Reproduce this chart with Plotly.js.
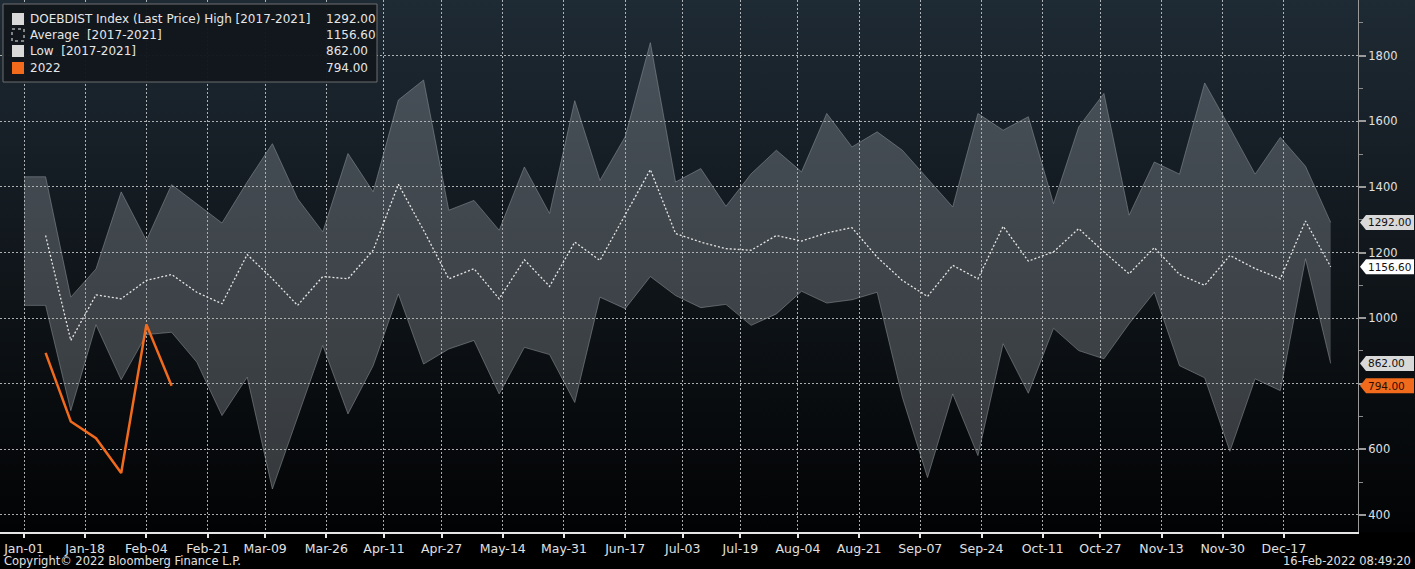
<!DOCTYPE html>
<html>
<head>
<meta charset="utf-8">
<script src="https://cdn.plot.ly/plotly-3.0.1.min.js"></script>
<style>
  html, body { margin: 0; padding: 0; }
  body {
    width: 1415px; height: 569px; overflow: hidden;
    background: linear-gradient(180deg, #1e2a34 0px, #10161b 266px, #020304 532px, #000 533px, #000 569px);
  }
  #chart { width: 1415px; height: 569px; }
</style>
</head>
<body>
<div id="chart"></div>
<script>
// ---------------- DATA ----------------
const bandDates = [
  '2022-01-01','2022-01-07','2022-01-14','2022-01-21','2022-01-28','2022-02-04','2022-02-11','2022-02-18','2022-02-25',
  '2022-03-04','2022-03-11','2022-03-18','2022-03-25','2022-04-01','2022-04-08','2022-04-15','2022-04-22','2022-04-29',
  '2022-05-06','2022-05-13','2022-05-20','2022-05-27','2022-06-03','2022-06-10','2022-06-17','2022-06-24','2022-07-01',
  '2022-07-08','2022-07-15','2022-07-22','2022-07-29','2022-08-05','2022-08-12','2022-08-19','2022-08-26','2022-09-02',
  '2022-09-09','2022-09-16','2022-09-23','2022-09-30','2022-10-07','2022-10-14','2022-10-21','2022-10-28','2022-11-04',
  '2022-11-11','2022-11-18','2022-11-25','2022-12-02','2022-12-09','2022-12-16','2022-12-23','2022-12-30'
];
const highValues = [
  1431, 1431, 1064, 1150, 1385, 1237, 1407, 1349, 1290,
  1415, 1532, 1364, 1263, 1502, 1385, 1665, 1726, 1329,
  1359, 1268, 1461, 1319, 1663, 1420, 1553, 1840, 1415,
  1456, 1341, 1440, 1512, 1446, 1624, 1522, 1568, 1512,
  1425, 1339, 1624, 1573, 1614, 1349, 1583, 1685, 1314,
  1476, 1439, 1717, 1580, 1439, 1551, 1463, 1292
];
const lowValues = [
  1039, 1039, 718, 980, 812, 950, 957, 866, 703,
  820, 479, 700, 917, 708, 855, 1074, 860, 906,
  932, 769, 911, 889, 743, 1064, 1029, 1127, 1069,
  1032, 1042, 978, 1013, 1082, 1046, 1056, 1079, 759,
  514, 769, 581, 922, 771, 969, 901, 876, 983,
  1079, 855, 818, 594, 815, 779, 1181, 862
];
const avgDates = bandDates.slice(1);
const avgValues = [
  1252, 932, 1071, 1059, 1115, 1133, 1079, 1044,
  1194, 1120, 1039, 1127, 1120, 1207, 1408, 1268, 1120,
  1151, 1059, 1178, 1097, 1232, 1176, 1313, 1453, 1258,
  1232, 1212, 1207, 1252, 1235, 1260, 1276, 1186, 1115,
  1066, 1161, 1120, 1280, 1174, 1202, 1273, 1202, 1135,
  1215, 1133, 1100, 1191, 1151, 1120, 1296, 1156.6
];
const y2022Dates = ['2022-01-07','2022-01-14','2022-01-21','2022-01-28','2022-02-04','2022-02-11'];
const y2022Values = [894, 685, 634, 528, 981, 794];

const xTickVals = ['2022-01-01','2022-01-18','2022-02-04','2022-02-21','2022-03-09','2022-03-26','2022-04-11','2022-04-27',
  '2022-05-14','2022-05-31','2022-06-17','2022-07-03','2022-07-19','2022-08-04','2022-08-21','2022-09-07','2022-09-24',
  '2022-10-11','2022-10-27','2022-11-13','2022-11-30','2022-12-17'];
const xTickText = ['Jan-01','Jan-18','Feb-04','Feb-21','Mar-09','Mar-26','Apr-11','Apr-27','May-14','May-31','Jun-17',
  'Jul-03','Jul-19','Aug-04','Aug-21','Sep-07','Sep-24','Oct-11','Oct-27','Nov-13','Nov-30','Dec-17'];
const yTickVals = [400, 600, 800, 1000, 1200, 1400, 1600, 1800];
const yTickText = ['400', '600', '', '1000', '1200', '1400', '1600', '1800'];

const legendLabels = ['DOEBDIST Index (Last Price) High [2017-2021]', 'Average \u00a0[2017-2021]', 'Low \u00a0[2017-2021]', '2022'];
const footerLeft = 'Copyright\u00a9 2022 Bloomberg Finance L.P.';
const footerRight = '16-Feb-2022 08:49:20';

// ---------------- STYLE ----------------
const FONT = 'DejaVu Sans, Verdana, sans-serif';
const ORANGE = '#f26b1d';
const W = 1358, H = 532;         // plot area in px (margins l0 t0 r57 b37)
const px = v => v / W;
const py = v => 1 - v / H;

const last = a => a[a.length - 1];
const tagSeries = [
  {v: last(highValues), bg: '#d9d9d9', fg: '#111'},
  {v: last(avgValues),  bg: '#ffffff', fg: '#111'},
  {v: last(lowValues),  bg: '#d9d9d9', fg: '#111'},
  {v: last(y2022Values), bg: ORANGE,   fg: '#2a0e00'}
];

const traces = [
  {x: bandDates, y: lowValues, type: 'scatter', mode: 'lines',
   line: {color: 'rgba(140,146,152,0.55)', width: 1}, hoverinfo: 'skip', showlegend: false},
  {x: bandDates, y: highValues, type: 'scatter', mode: 'lines', fill: 'tonexty',
   fillcolor: 'rgba(172,178,184,0.30)',
   line: {color: 'rgba(140,146,152,0.55)', width: 1}, hoverinfo: 'skip', showlegend: false},
  {x: avgDates, y: avgValues, type: 'scatter', mode: 'lines',
   line: {color: 'rgba(238,238,238,0.95)', width: 1.3, dash: '2px,2px'}, hoverinfo: 'skip', showlegend: false},
  {x: y2022Dates, y: y2022Values, type: 'scatter', mode: 'lines',
   line: {color: ORANGE, width: 2.5}, hoverinfo: 'skip', showlegend: false}
];

const shapes = [];
const annotations = [];

// value tags on the right axis
tagSeries.forEach(t => {
  shapes.push({type: 'path', xref: 'paper', yref: 'y', xsizemode: 'pixel', ysizemode: 'pixel',
    xanchor: 1, yanchor: t.v, path: 'M2,0 L8,7.5 L56,7.5 L56,-7.5 L8,-7.5 Z',
    fillcolor: t.bg, line: {width: 0}, layer: 'above'});
  annotations.push({xref: 'paper', yref: 'y', x: 1, y: t.v, xanchor: 'left', yanchor: 'middle', xshift: 8,
    text: t.v.toFixed(2), showarrow: false, font: {family: FONT, size: 10.5, color: t.fg}});
});

// legend box
shapes.push({type: 'rect', xref: 'paper', yref: 'paper', x0: px(3), x1: px(377), y0: py(4), y1: py(82),
  fillcolor: 'rgba(18,23,28,0.97)', line: {color: '#6e6e6e', width: 1}, layer: 'above'});
const rowY = [19, 35, 51, 68];
const swatch = [
  {fill: '#d9d9d9', line: {width: 0}},
  {fill: 'rgba(0,0,0,0)', line: {color: '#f0f0f0', width: 1, dash: 'dot'}},
  {fill: '#d9d9d9', line: {width: 0}},
  {fill: ORANGE, line: {width: 0}}
];
const legendValues = [last(highValues), last(avgValues), last(lowValues), last(y2022Values)];
legendLabels.forEach((lab, i) => {
  shapes.push({type: 'rect', xref: 'paper', yref: 'paper', x0: px(12), x1: px(24),
    y0: py(rowY[i] - 6), y1: py(rowY[i] + 6), fillcolor: swatch[i].fill, line: swatch[i].line, layer: 'above'});
  annotations.push({xref: 'paper', yref: 'paper', x: px(28), y: py(rowY[i]), xanchor: 'left', yanchor: 'middle',
    text: lab, showarrow: false, font: {family: FONT, size: 12, color: '#e6e6e6'}});
  annotations.push({xref: 'paper', yref: 'paper', x: px(324), y: py(rowY[i]), xanchor: 'left', yanchor: 'middle',
    text: legendValues[i].toFixed(2), showarrow: false, font: {family: FONT, size: 12, color: '#e6e6e6'}});
});

// footer
annotations.push({xref: 'paper', yref: 'paper', x: px(2), y: py(561), xanchor: 'left', yanchor: 'middle',
  text: footerLeft, showarrow: false, font: {family: FONT, size: 11.5, color: '#e0e0e0'}});
annotations.push({xref: 'paper', yref: 'paper', x: px(1413), y: py(561), xanchor: 'right', yanchor: 'middle',
  text: footerRight, showarrow: false, font: {family: FONT, size: 11.5, color: '#e0e0e0'}});

const layout = {
  width: 1415, height: 569,
  margin: {l: 0, r: 57, t: 0, b: 37, pad: 0},
  paper_bgcolor: 'rgba(0,0,0,0)',
  plot_bgcolor: 'rgba(0,0,0,0)',
  showlegend: false,
  xaxis: {
    type: 'date', range: ['2021-12-25 08:00', '2023-01-06 14:00'],
    tickmode: 'array', tickvals: xTickVals, ticktext: xTickText,
    showgrid: true, gridcolor: 'rgba(225,225,225,0.75)', gridwidth: 1, griddash: '2px,2px',
    showline: true, linecolor: '#e6e6e6', linewidth: 2,
    ticks: 'outside', ticklen: 4, tickwidth: 2, tickcolor: '#e6e6e6',
    tickfont: {family: FONT, size: 12.5, color: '#e0e0e0'},
    zeroline: false, fixedrange: true
  },
  yaxis: {
    side: 'right', range: [348, 1970],
    tickmode: 'array', tickvals: yTickVals, ticktext: yTickText,
    showgrid: true, gridcolor: 'rgba(225,225,225,0.75)', gridwidth: 1, griddash: '2px,2px',
    showline: true, linecolor: '#9a9a9a', linewidth: 1,
    ticks: 'outside', ticklen: 7, tickwidth: 2, tickcolor: '#9a9a9a',
    minor: {tickmode: 'linear', tick0: 300, dtick: 100, ticks: 'outside', ticklen: 4, tickwidth: 1, tickcolor: '#8a8a8a', showgrid: false},
    tickfont: {family: FONT, size: 11.5, color: '#e0e0e0'},
    zeroline: false, fixedrange: true
  },
  shapes: shapes,
  annotations: annotations
};

Plotly.newPlot('chart', traces, layout, {staticPlot: true, displayModeBar: false});
</script>
</body>
</html>
